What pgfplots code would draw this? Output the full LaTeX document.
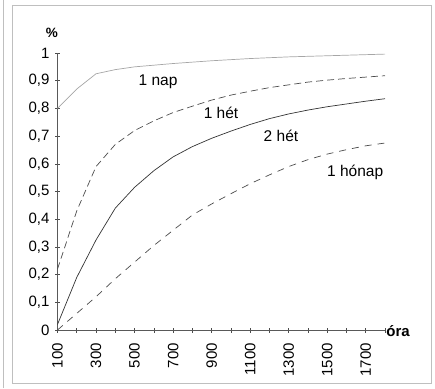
\documentclass[border=0pt]{standalone}
\usepackage{pgfplots}
\pgfplotsset{compat=1.18}
\usepackage{fontspec}
\setmainfont{Liberation Sans}

% Share of cases by elapsed hours, one series per period
\pgfplotstableread{
ora   nap    het    kethet  honap
100   0.800  0.220  0.020   0.000
200   0.870  0.430  0.190   0.060
300   0.925  0.590  0.325   0.120
400   0.940  0.670  0.440   0.185
500   0.950  0.720  0.515   0.245
600   0.956  0.755  0.575   0.305
700   0.962  0.785  0.625   0.360
800   0.967  0.808  0.662   0.415
900   0.972  0.830  0.692   0.455
1000  0.976  0.848  0.718   0.492
1100  0.980  0.862  0.742   0.528
1200  0.983  0.875  0.763   0.560
1300  0.986  0.885  0.780   0.590
1400  0.988  0.895  0.794   0.615
1500  0.990  0.902  0.806   0.635
1600  0.992  0.908  0.816   0.651
1700  0.994  0.913  0.826   0.665
1800  0.996  0.918  0.835   0.675
}\datatable

\begin{document}
\begin{tikzpicture}[x=1pt,y=1pt]
\useasboundingbox (0,0) rectangle (435,388);
% outer frame
\draw[gray!50, line width=0.6pt] (12,5) rectangle (431,383);
\draw[gray!50, line width=0.6pt] (3,0) -- (3,388);

\begin{axis}[
  at={(57.5pt,58pt)}, anchor=south west,
  scale only axis, width=327.5pt, height=277pt,
  xmin=100, xmax=1800, ymin=0, ymax=1,
  axis x line=bottom, axis y line=left,
  axis line style={-, gray!70!black, line width=0.6pt},
  xtick={100,200,...,1800},
  xticklabels={100,{},300,{},500,{},700,{},900,{},1100,{},1300,{},1500,{},1700,{}},
  ytick={0,0.1,...,1.01},
  tick align=center, major tick length=5pt,
  tick style={gray!60!black, line width=0.6pt},
  /pgf/number format/assume math mode=true,
  /pgf/number format/use comma,
  yticklabel style={font=\fontsize{15}{17}\selectfont, xshift=-2pt},
  xticklabel style={font=\fontsize{15}{17}\selectfont, yshift=-7pt, rotate=90, anchor=east},
  clip=false,
]
\addplot[gray!70, line width=0.7pt] table[x=ora, y=nap] {\datatable};
\addplot[black!70, line width=0.7pt, dash pattern=on 7pt off 4pt] table[x=ora, y=het] {\datatable};
\addplot[black!80, line width=0.7pt] table[x=ora, y=kethet] {\datatable};
\addplot[black!70, line width=0.7pt, dash pattern=on 7pt off 6pt] table[x=ora, y=honap] {\datatable};

\node[font=\fontsize{15.5}{17}\selectfont] at (axis cs:622,0.895) {1 nap};
\node[font=\fontsize{15.5}{17}\selectfont] at (axis cs:949,0.783) {1 hét};
\node[font=\fontsize{15.5}{17}\selectfont] at (axis cs:1260,0.700) {2 hét};
\node[font=\fontsize{15.5}{17}\selectfont] at (axis cs:1645,0.570) {1 hónap};
\node[font=\bfseries\fontsize{13.5}{15}\selectfont] at (axis cs:71,1.072) {\%};
\node[font=\bfseries\fontsize{15}{17}\selectfont] at (axis cs:1868,-0.004) {óra};
\end{axis}
\end{tikzpicture}
\end{document}
